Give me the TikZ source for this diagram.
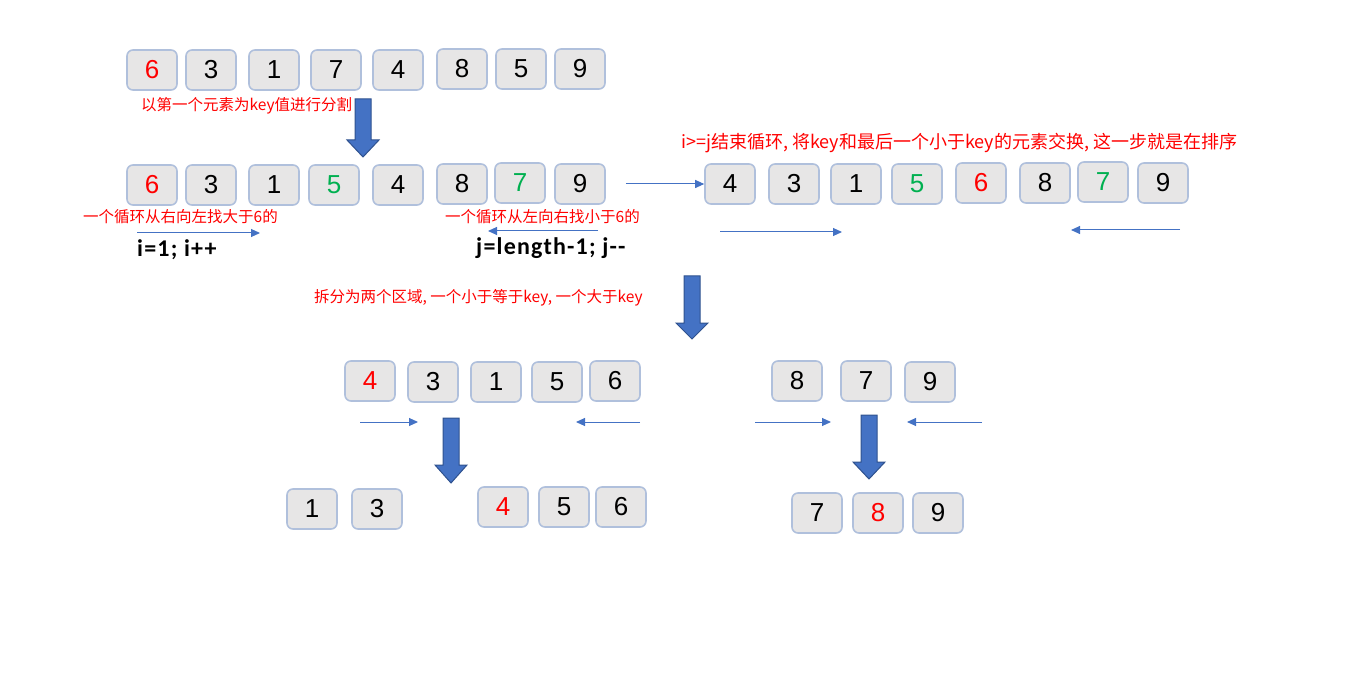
\documentclass[tikz,border=0pt]{standalone}
\usepackage{fontspec}
\setmainfont{Liberation Sans}
\newfontfamily\cjk{Noto Sans CJK SC}
\newfontfamily\calfont[LetterSpace=5]{Carlito}
\usetikzlibrary{arrows.meta}
\definecolor{boxfill}{HTML}{E7E6E6}
\definecolor{boxline}{HTML}{B0C0DC}
\definecolor{keyred}{HTML}{FF0000}
\definecolor{grn}{HTML}{00B050}
\definecolor{arrblue}{HTML}{4472C4}
\definecolor{arrdark}{HTML}{2F528F}
\tikzset{
  box/.style={draw=boxline, fill=boxfill, line width=1.6pt, rounded corners=6pt,
    minimum width=50pt, minimum height=40pt, inner sep=0pt,
    font=\fontsize{26}{30}\selectfont},
  rd/.style={text=keyred},
  gn/.style={text=grn},
  lbl/.style={anchor=west, inner sep=0pt, text=keyred, font=\cjk\fontsize{15.5}{18}\selectfont},
  code/.style={anchor=west, inner sep=0pt, font=\calfont\bfseries\fontsize{24}{28}\selectfont},
  thin/.style={draw=arrblue, line width=1pt, -{Triangle[length=9pt,width=8pt]}},
  blockarrow/.style={fill=arrblue, draw=arrdark, line width=1pt, line join=miter},
}
\newcommand\blockdown[5]{% xcenter, ytop, yheadbase, ytip, head half width
  \path[blockarrow] (#1-8,#2) -- (#1+8,#2) -- (#1+8,#3) -- (#1+#5,#3) -- (#1,#4)
     -- (#1-#5,#3) -- (#1-8,#3) -- cycle;}
\begin{document}
\begin{tikzpicture}[x=1pt,y=-1pt]
\useasboundingbox (0,0) rectangle (1361,695);
% Row 1
\node[box,rd] (a1) at (152,70) {6};
\node[box] (a2) at (211,70) {3};
\node[box] (a3) at (274,70) {1};
\node[box] (a4) at (336,70) {7};
\node[box] (a5) at (398,70) {4};
\node[box] (a6) at (462,69) {8};
\node[box] (a7) at (521,69) {5};
\node[box] (a8) at (580,69) {9};
\node[lbl] (l1) at (141,106) {以第一个元素为key值进行分割};
\blockdown{363}{99}{140}{157}{16}
% Row 2
\node[box,rd] (b1) at (152,185) {6};
\node[box] (b2) at (211,185) {3};
\node[box] (b3) at (274,185) {1};
\node[box,gn] (b4) at (334,185) {5};
\node[box] (b5) at (398,185) {4};
\node[box] (b6) at (462,184) {8};
\node[box,gn] (b7) at (520,183) {7};
\node[box] (b8) at (580,184) {9};
\node[lbl] (l2) at (83,217) {一个循环从右向左找大于6的};
\node[lbl] (l3) at (445,217) {一个循环从左向右找小于6的};
\coordinate (i0) at (137,233); \coordinate (i1) at (260,233);
\draw[thin] (i0) -- (i1);
\coordinate (j0) at (598,231); \coordinate (j1) at (488,231);
\draw[thin] (j0) -- (j1);
\node[code] (ci) at (137,250) {i=1; i++};
\node[code] (cj) at (476,248) {j=length-1; j--};
% Right row
\node[box] (c1) at (730,184) {4};
\node[box] (c2) at (794,184) {3};
\node[box] (c3) at (856,184) {1};
\node[box,gn] (c4) at (917,184) {5};
\node[box,rd] (c5) at (981,183) {6};
\node[box] (c6) at (1045,183) {8};
\node[box,gn] (c7) at (1103,182) {7};
\node[box] (c8) at (1163,183) {9};
\node[lbl, font=\cjk\fontsize{18}{21}\selectfont] (l4) at (681,143) {i>=j结束循环, 将key和最后一个小于key的元素交换, 这一步就是在排序};
\draw[thin] ([xshift=20pt]b8.east) -- (c1.west);
\coordinate (k0) at (720,232); \coordinate (k1) at (842,232);
\draw[thin] (k0) -- (k1);
\coordinate (m0) at (1180,230); \coordinate (m1) at (1071,230);
\draw[thin] (m0) -- (m1);
\blockdown{692}{276}{323}{339}{16}
\node[lbl] (l5) at (314,298) {拆分为两个区域, 一个小于等于key, 一个大于key};
% Row 3
\node[box,rd] (d1) at (370,381) {4};
\node[box] (d2) at (433,382) {3};
\node[box] (d3) at (496,382) {1};
\node[box] (d4) at (557,382) {5};
\node[box] (d5) at (615,381) {6};
\node[box] (e1) at (797,381) {8};
\node[box] (e2) at (866,381) {7};
\node[box] (e3) at (930,382) {9};
\coordinate (n0) at (360,422); \coordinate (n1) at (418,422);
\draw[thin] (n0) -- (n1);
\coordinate (o0) at (640,422); \coordinate (o1) at (576,422);
\draw[thin] (o0) -- (o1);
\coordinate (p0) at (755,422); \coordinate (p1) at (831,422);
\draw[thin] (p0) -- (p1);
\coordinate (q0) at (982,422); \coordinate (q1) at (907,422);
\draw[thin] (q0) -- (q1);
\blockdown{451}{418}{465}{483}{16}
\blockdown{869}{415}{462}{479}{16}
% Row 4
\node[box] (f1) at (312,509) {1};
\node[box] (f2) at (377,509) {3};
\node[box,rd] (f3) at (503,507) {4};
\node[box] (f4) at (564,507) {5};
\node[box] (f5) at (621,507) {6};
\node[box] (g1) at (817,513) {7};
\node[box,rd] (g2) at (878,513) {8};
\node[box] (g3) at (938,513) {9};
\end{tikzpicture}
\end{document}
